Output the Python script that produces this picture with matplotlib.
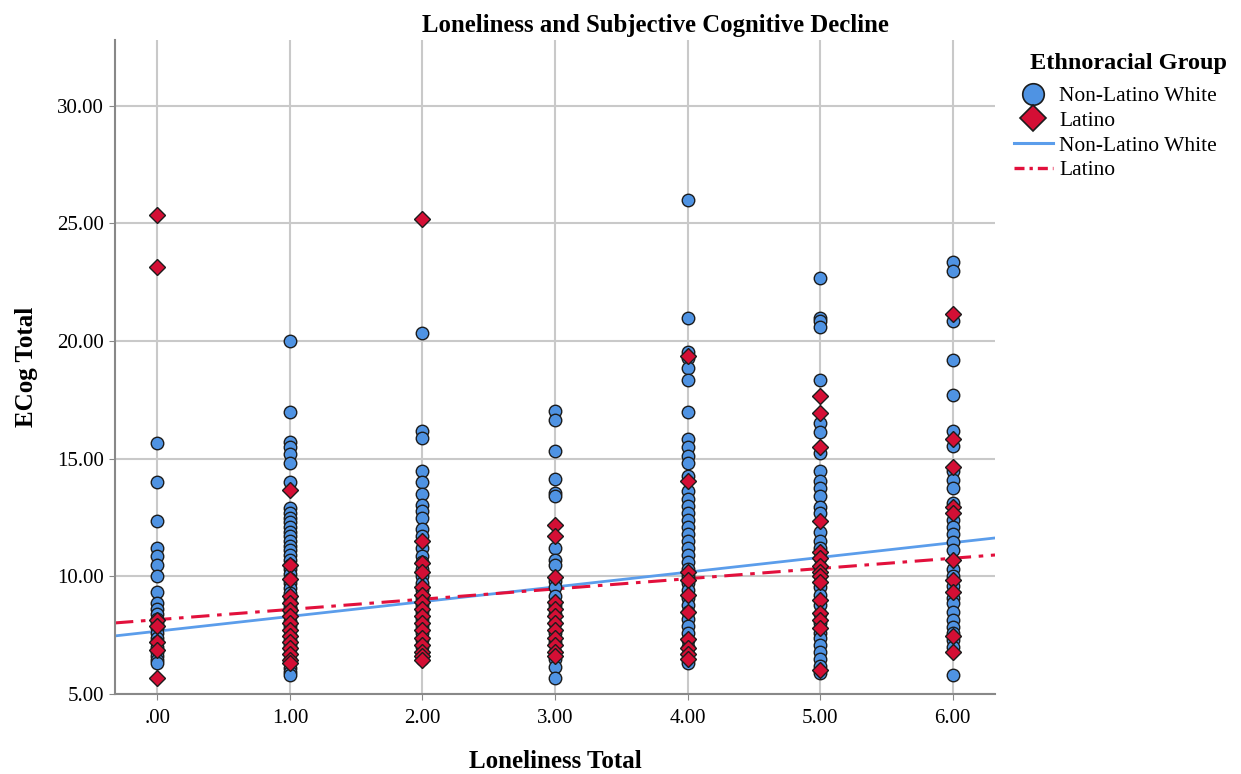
import matplotlib
matplotlib.use("Agg")
import matplotlib.pyplot as plt
from matplotlib.lines import Line2D
from matplotlib.ticker import FuncFormatter

plt.rcParams["font.family"] = ["Liberation Serif", "DejaVu Serif"]

# ── data: loneliness score -> ECog totals ──
loneliness = [0, 1, 2, 3, 4, 5, 6]

nlw_ecog = {
    0: [15.66, 14.0, 12.35, 11.2, 10.85, 10.5, 10.0, 9.35, 8.85, 8.6, 8.4, 8.2, 8.0,
        7.8, 7.6, 7.4, 7.2, 7.0, 6.8, 6.6, 6.45, 6.3],
    1: [20.0, 17.0, 15.7, 15.5, 15.2, 14.8, 14.0, 12.9, 12.7, 12.5, 12.3, 12.1, 11.9,
        11.7, 11.5, 11.3, 11.1, 10.9, 10.7, 10.5, 10.3, 10.1, 9.9, 9.7, 9.5, 9.3, 9.1,
        8.9, 8.7, 8.5, 8.3, 8.1, 7.9, 7.7, 7.5, 7.3, 7.1, 6.9, 6.7, 6.5, 6.3, 6.1, 5.95, 5.8],
    2: [20.33, 16.2, 15.9, 14.5, 14.0, 13.5, 13.05, 12.8, 12.5, 12.0, 11.7, 11.2, 10.85,
        10.6, 10.3, 10.0, 9.7, 9.4, 9.1, 8.8, 8.5, 8.2, 7.9, 7.6, 7.3, 7.0, 6.7, 6.5],
    3: [17.05, 16.65, 15.35, 14.15, 13.55, 13.4, 11.2, 10.7, 10.5, 9.8, 9.55, 9.15, 8.8,
        8.4, 8.0, 7.6, 7.2, 6.8, 6.5, 6.15, 5.67],
    4: [26.0, 21.0, 19.55, 19.3, 18.85, 18.35, 17.0, 15.85, 15.5, 15.1, 14.8, 14.25, 13.65,
        13.3, 13.0, 12.7, 12.4, 12.1, 11.8, 11.5, 11.2, 10.9, 10.6, 10.3, 10.0, 9.7, 9.4,
        9.1, 8.8, 8.5, 8.2, 7.9, 7.6, 7.3, 7.0, 6.7, 6.5, 6.3],
    5: [22.67, 21.0, 20.85, 20.6, 18.35, 16.5, 16.15, 15.25, 14.5, 14.05, 13.75, 13.4,
        12.95, 12.7, 11.9, 11.5, 11.2, 10.8, 10.4, 10.0, 9.55, 9.2, 8.8, 8.4, 8.0, 7.6,
        7.4, 7.1, 6.8, 6.5, 6.2, 5.9],
    6: [23.35, 23.0, 20.85, 19.2, 17.7, 16.2, 15.55, 14.5, 14.1, 13.75, 13.1, 12.4, 12.1,
        11.8, 11.45, 11.1, 10.3, 10.0, 9.6, 9.1, 8.85, 8.5, 8.15, 7.85, 7.6, 7.3, 7.0, 5.8],
}

latino_ecog = {
    0: [25.35, 23.15, 8.15, 7.9, 7.2, 6.85, 5.67],
    1: [13.67, 10.48, 9.9, 9.15, 8.85, 8.55, 8.3, 8.0, 7.7, 7.45, 7.2, 6.95, 6.7, 6.45, 6.3],
    2: [25.2, 11.5, 10.55, 10.2, 9.55, 9.2, 8.9, 8.6, 8.3, 8.0, 7.7, 7.4, 7.1, 6.8, 6.6, 6.45],
    3: [12.2, 11.7, 9.98, 8.9, 8.6, 8.3, 8.0, 7.7, 7.4, 7.1, 6.8, 6.6],
    4: [19.35, 14.05, 10.2, 9.85, 9.2, 8.5, 7.35, 6.95, 6.7, 6.5],
    5: [17.65, 16.95, 15.5, 12.35, 11.05, 10.8, 10.45, 10.2, 10.0, 9.75, 9.0, 8.45, 8.15,
        7.8, 6.0],
    6: [21.15, 15.85, 14.65, 12.95, 12.7, 10.7, 9.85, 9.35, 7.45, 6.8],
}

# fit lines (intercept, slope) as shown
nlw_fit = (7.67, 0.627)
latino_fit = (8.16, 0.435)

x_ticks = [0, 1, 2, 3, 4, 5, 6]
y_ticks = [5, 10, 15, 20, 25, 30]

BLUE = "#4F93E3"
RED = "#D40F35"
BLUE_LINE = "#5B9DEB"
RED_LINE = "#E2103C"
GRID = "#C9C9C9"

fig = plt.figure(figsize=(12.41, 7.74), dpi=100)
ax = fig.add_axes([115 / 1241, 80 / 774, 880 / 1241, 654 / 774])

ax.set_xlim(-0.32, 6.32)
ax.set_ylim(5, 32.8)

ax.set_xticks(x_ticks)
ax.set_yticks(y_ticks)
ax.grid(True, color=GRID, linewidth=1.5, zorder=0)
ax.set_axisbelow(True)

# fit lines drawn first, markers over them
xs = [-0.32, 6.32]
ax.plot(xs, [nlw_fit[0] + nlw_fit[1] * x for x in xs], color=BLUE_LINE, lw=2, zorder=2)
ax.plot(xs, [latino_fit[0] + latino_fit[1] * x for x in xs], color=RED_LINE, lw=2.2,
        linestyle=(0, (6, 2.5, 1.5, 2.5)), zorder=2)

for x in loneliness:
    ys = nlw_ecog[x]
    ax.plot([x] * len(ys), ys, linestyle="none", marker="o", markersize=9,
            markerfacecolor=BLUE, markeredgecolor="#1c1c1c", markeredgewidth=1.0, zorder=3)
for x in loneliness:
    ys = latino_ecog[x]
    ax.plot([x] * len(ys), ys, linestyle="none", marker="D", markersize=8,
            markerfacecolor=RED, markeredgecolor="#1c1c1c", markeredgewidth=1.0, zorder=4)

ax.xaxis.set_major_formatter(FuncFormatter(lambda v, p: (f"{v:.2f}").lstrip("0") if v == 0 else f"{v:.2f}"))
ax.yaxis.set_major_formatter(FuncFormatter(lambda v, p: f"{v:.2f}"))
ax.tick_params(labelsize=15, color="#888888", length=4)
ax.tick_params(axis="x", pad=7)
ax.tick_params(axis="y", pad=4)

for s in ("top", "right"):
    ax.spines[s].set_visible(False)
for s in ("left", "bottom"):
    ax.spines[s].set_color("#888888")
    ax.spines[s].set_linewidth(1.5)

ax.set_title("Loneliness and Subjective Cognitive Decline", fontsize=17.8, fontweight="bold",
             x=(655 - 115) / 880, pad=6)
ax.set_xlabel("Loneliness Total", fontsize=18, fontweight="bold", labelpad=16)
ax.set_ylabel("ECog Total", fontsize=18, fontweight="bold", labelpad=14)

fig.text(1030 / 1241, 1 - 64 / 774, "Ethnoracial Group", fontsize=17.5, fontweight="bold",
         ha="left", va="center")

handles = [
    Line2D([], [], linestyle="none", marker="o", markersize=15.5, markerfacecolor=BLUE,
           markeredgecolor="#1c1c1c", markeredgewidth=1.2),
    Line2D([], [], linestyle="none", marker="D", markersize=13, markerfacecolor=RED,
           markeredgecolor="#1c1c1c", markeredgewidth=1.2),
    Line2D([], [], color=BLUE_LINE, lw=2.2),
    Line2D([], [], color=RED_LINE, lw=2.4, linestyle=(0, (3, 1.5, 1, 1.5))),
]
labels = ["Non-Latino White", "Latino", "Non-Latino White", "Latino"]
leg = fig.legend(handles, labels, loc="upper left", bbox_to_anchor=(1014 / 1241, 1 - 86 / 774),
                 frameon=False, fontsize=15.5,
                 handlelength=1.8, handletextpad=0.3, labelspacing=0.22, borderaxespad=0,
                 borderpad=0)

fig.savefig("out.png", dpi=100)
